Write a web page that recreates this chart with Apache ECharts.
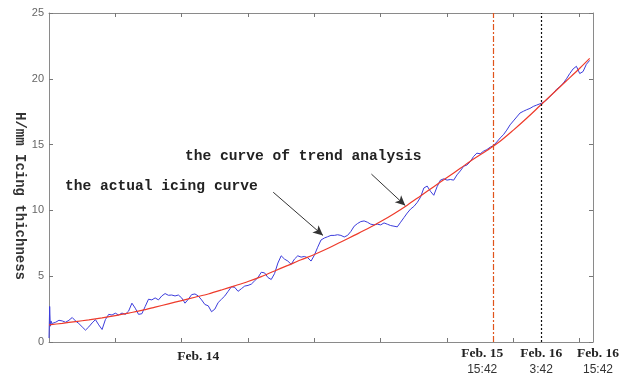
<!DOCTYPE html>
<html>
<head>
<meta charset="utf-8">
<script src="https://cdn.jsdelivr.net/npm/echarts@6/dist/echarts.min.js"></script>
<style>
html,body{margin:0;padding:0;background:#fff;}
#chart{width:630px;height:376px;}
</style>
</head>
<body>
<div id="chart"></div>
<script>
// ---- data (x = sample index, 10-minute samples) ----
const blueHeadValues = [0.3, 2.7, 1.2, 1.6, 1.4]; // samples 0..4
const blueStep = 5; // following values start at sample 5
const blueValues = [
  1.43,1.5,1.65,1.6,1.5,1.65,1.86,1.6,1.4,1.15,0.9,1.15,1.45,1.7,1.3,0.95,1.7,2.1,2.05,2.19,
  2.05,2.2,2.1,2.35,2.95,2.57,2.1,2.15,2.7,3.25,3.2,3.35,3.2,3.5,3.68,3.55,3.57,3.5,3.57,3.35,
  2.95,3.25,3.6,3.65,3.5,3.2,2.85,2.75,2.3,2.5,3.0,3.25,3.5,3.85,4.2,4.15,3.85,4.05,4.25,4.3,
  4.4,4.65,4.9,5.3,5.25,4.9,4.75,5.2,6.0,6.55,6.3,6.15,5.9,6.3,6.55,6.45,6.5,6.4,6.15,6.6,
  7.2,7.75,7.9,8.0,8.1,8.1,8.15,8.1,7.98,8.1,8.4,8.8,9.0,9.15,9.2,9.1,8.95,8.9,8.95,8.9,
  9.05,8.95,8.85,8.8,8.75,9.1,9.45,9.8,10.1,10.3,10.6,11.0,11.7,11.85,11.45,11.15,11.8,12.3,12.4,12.3,
  12.35,12.3,12.7,13.0,13.35,13.45,13.7,14.1,14.35,14.3,14.5,14.62,14.8,14.93,15.2,15.5,15.75,16.1,16.5,16.8,
  17.1,17.4,17.53,17.65,17.75,17.9,18.0,18.1,18.2,18.4,18.65,18.9,19.2,19.4,19.65,20.0,20.4,20.75,20.95,20.4,
  20.55,21.1,21.4
];
const trendX = [0,20,40,60,80,100,120,140,160,180,200,220,240,260,280,300,320,340,360,380,400,420,440,460,480,500,520,540,560,580,600,620,640,660,680,700,720,740,760,780,800,815];
const trendY = [1.3,1.42,1.55,1.68,1.83,2.0,2.2,2.4,2.65,2.9,3.15,3.4,3.65,3.95,4.27,4.6,4.97,5.4,5.82,6.25,6.65,7.1,7.6,8.1,8.6,9.15,9.75,10.4,11.1,11.8,12.5,13.2,13.9,14.55,15.25,16.1,17.0,17.95,18.9,19.85,20.8,21.55];

const xTickValues = [100,200,300,400,500,600,700,800];
const yTicks = [0,5,10,15,20,25];
const xLabelValues = [225, 653, 742, 820];
const xLabelDates = ['Feb. 14','Feb. 15','Feb. 16','Feb. 16'];
const xLabelTimes = ['','15:42','3:42','15:42'];
const forecastStart = 670;  // Feb.15 15:42
const forecastEnd = 742;    // Feb.16 3:42
const yAxisTitle = 'H/mm Icing thichness';
const noteActual = 'the actual icing curve';
const noteTrend = 'the curve of trend analysis';
const arrowActual = [[338, 11.38], [413, 8.1]];
const arrowTrend = [[486, 12.76], [537, 10.37]];

const blueData = blueHeadValues.map((v,i)=>[i,v]).concat(blueValues.map((v,i)=>[blueStep*(i+1), v]));
const trendData = trendX.map((x,i)=>[x, trendY[i]]);

const chart = echarts.init(document.getElementById('chart'), null, {renderer:'canvas'});
const frame = {show:true, onZero:false, lineStyle:{color:'#8a8a8a', width:1}};
const tickIn = {show:true, inside:true, length:4, lineStyle:{color:'#777', width:1}};

const option = {
  backgroundColor:'#ffffff',
  animation:false,
  grid:{left:49, right:37, top:13, bottom:32},
  xAxis:[
    {type:'value', min:0, max:820, position:'bottom', axisLine:frame,
     axisTick:Object.assign({}, tickIn, {customValues:xTickValues}),
     splitLine:{show:false},
     axisLabel:{show:true, customValues:xLabelValues, margin:4, interval:0, hideOverlap:false,
       showMinLabel:true, showMaxLabel:true,
       formatter:function(v){
         const i = xLabelValues.indexOf(v);
         if(i<0) return '';
         const key = ['a','b','c','d'][i];
         let s = '{'+key+'|'+xLabelDates[i]+'}';
         if(xLabelTimes[i]) s += '\n{'+key+'t|'+xLabelTimes[i]+'}';
         return s;
       },
       rich:{
         a:{fontFamily:'Liberation Serif', fontWeight:'bold', fontSize:13.5, color:'#222', lineHeight:16, padding:[5,0,0,0]},
         b:{fontFamily:'Liberation Serif', fontWeight:'bold', fontSize:13.5, color:'#222', lineHeight:16},
         bt:{fontFamily:'Liberation Sans', fontSize:12, color:'#333', lineHeight:16},
         c:{fontFamily:'Liberation Serif', fontWeight:'bold', fontSize:13.5, color:'#222', lineHeight:16},
         ct:{fontFamily:'Liberation Sans', fontSize:12, color:'#333', lineHeight:16},
         d:{fontFamily:'Liberation Serif', fontWeight:'bold', fontSize:13.5, color:'#222', lineHeight:16, padding:[0,0,0,10]},
         dt:{fontFamily:'Liberation Sans', fontSize:12, color:'#333', lineHeight:16, padding:[0,0,0,10]}
       }
     }},
    {type:'value', min:0, max:820, position:'top', axisLine:frame,
     axisTick:Object.assign({}, tickIn, {customValues:xTickValues}),
     axisLabel:{show:false}, splitLine:{show:false}}
  ],
  yAxis:[
    {type:'value', min:0, max:25, interval:5, position:'left', axisLine:frame,
     axisTick:Object.assign({}, tickIn, {customValues:yTicks}),
     splitLine:{show:false},
     axisLabel:{color:'#666', fontFamily:'Liberation Sans', fontSize:11, margin:5}},
    {type:'value', min:0, max:25, interval:5, position:'right', axisLine:frame,
     axisTick:Object.assign({}, tickIn, {customValues:yTicks}),
     splitLine:{show:false}, axisLabel:{show:false}}
  ],
  series:[
    {type:'line', name:'actual', data:blueData, showSymbol:false, symbol:'none',
     lineStyle:{color:'#3c3cdc', width:1}, z:3,
     markLine:{silent:true, symbol:'none', label:{show:false},
       data:[
         {xAxis:forecastStart, lineStyle:{color:'#e0541c', width:1.2, type:[6,2,2,2]}},
         {xAxis:forecastEnd, lineStyle:{color:'#111', width:1.2, type:[2,2]}}
       ]}
    },
    {type:'line', name:'trend', data:trendData, showSymbol:false, symbol:'none', smooth:0.3,
     lineStyle:{color:'#ee3b2b', width:1.2}, z:4,
     markLine:{silent:true, symbol:['none','arrow'], symbolSize:[7,10], label:{show:false},
       lineStyle:{color:'#333', width:1, type:'solid'},
       data:[
         [{coord:arrowActual[0]},{coord:arrowActual[1]}],
         [{coord:arrowTrend[0]},{coord:arrowTrend[1]}]
       ]}
    }
  ],
  graphic:[
    {type:'text', x:20, y:196, rotation:-Math.PI/2,
     style:{text:yAxisTitle, fontFamily:'Liberation Mono', fontWeight:'bold', fontSize:14, fill:'#333', align:'center', verticalAlign:'middle'}},
    {type:'text', x:65, y:186,
     style:{text:noteActual, fontFamily:'Liberation Mono', fontWeight:'bold', fontSize:14.6, fill:'#222', align:'left', verticalAlign:'middle'}},
    {type:'text', x:185, y:156,
     style:{text:noteTrend, fontFamily:'Liberation Mono', fontWeight:'bold', fontSize:14.6, fill:'#222', align:'left', verticalAlign:'middle'}}
  ]
};
chart.setOption(option);
</script>
</body>
</html>
